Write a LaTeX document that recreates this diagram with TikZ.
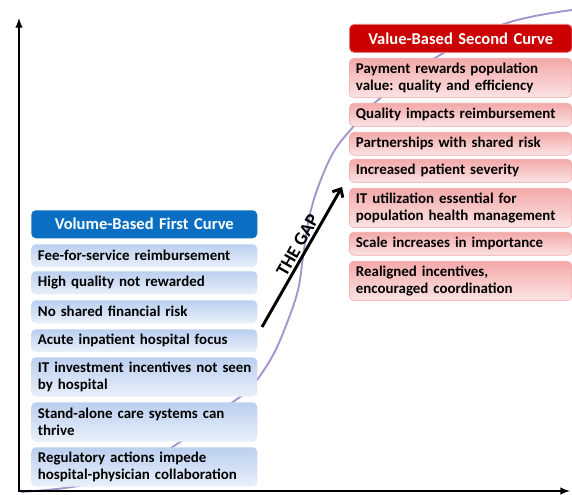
\documentclass[tikz,border=0pt]{standalone}
\usepackage{fontspec}
\setmainfont{Carlito}
\frenchspacing
\usetikzlibrary{calc, positioning, shadings, arrows.meta}
\definecolor{volblue}{HTML}{0A6FC2}
\definecolor{volrowtop}{HTML}{BBCFEF}
\definecolor{volrowbot}{HTML}{E9F0FA}
\definecolor{valred}{HTML}{CC0000}
\definecolor{valedge}{HTML}{E47A7A}
\definecolor{valrowtop}{HTML}{F3A9A9}
\definecolor{valrowbot}{HTML}{FCE3E3}
\definecolor{lilac}{HTML}{A394CE}
\tikzset{
    curvebox/.style={rectangle, rounded corners=3.5pt, anchor=north west, inner xsep=5pt, inner ysep=1pt, align=left, font=\bfseries\fontsize{11.2}{12.8}\selectfont},
    volbox/.style={curvebox, text width=159.5pt},
    valbox/.style={curvebox, text width=157pt},
    volhead/.style={volbox, fill=volblue, text=white, align=center, minimum height=21pt, font=\bfseries\fontsize{12.4}{14}\selectfont},
    volrow/.style={volbox, top color=volrowtop, bottom color=volrowbot},
    valhead/.style={valbox, fill=valred, draw=valedge, line width=0.6pt, text=white, align=center, minimum height=21pt, font=\bfseries\fontsize{12.4}{14}\selectfont},
    valrow/.style={valbox, top color=valrowtop, bottom color=valrowbot, draw=valrowtop, line width=0.4pt},
    oneline/.style={minimum height=17.25pt},
    twoline/.style={minimum height=29.5pt},
    scurve/.style={draw=lilac, line width=1.4pt},
    axis/.style={latex-latex, line width=1.5pt},
    gaparrow/.style={-{Straight Barb[length=5pt, width=9pt]}, line width=2.2pt},
    gaplabel/.style={sloped, above, pos=0.55, inner sep=1.5pt, font=\bfseries\fontsize{14}{16}\selectfont} }

\begin{document}
\begin{tikzpicture}[x=0.75pt, y=0.75pt]
			\useasboundingbox (0,0) rectangle (572,495);
			% the s-curve runs behind everything else
			\draw[scurve] plot[smooth, tension=0.6] coordinates {(21,3) (83,10) (140,30) (183,55) (233,93) (250,106) (272,138) (287,172) (298,205) (303,238) (308,272) (317,305) (333,342) (353,368) (378,395) (440,440) (507,472) (572,485)};
			\coordinate (O) at (19,4);
			\coordinate (xtip) at (570,4);
			\coordinate (ytip) at (19,477);
			\draw[axis] (xtip) -- (O) -- (ytip);
			% ---- first curve
			\node[volhead] (vol) at (31,285) {Volume-Based First Curve};
			\node[volrow, oneline] (vol1) at (31,251) {Fee-for-service reimbursement};
			\node[volrow, oneline] (vol2) at (31,224) {High quality not rewarded};
			\node[volrow, oneline] (vol3) at (31,195) {No shared financial risk};
			\node[volrow, oneline] (vol4) at (31,166) {Acute inpatient hospital focus};
			\node[volrow, twoline] (vol5) at (31,138) {\mbox{IT investment incentives not seen}\\by hospital};
			\node[volrow, twoline] (vol6) at (31,93) {Stand-alone care systems can\\thrive};
			\node[volrow, twoline] (vol7) at (31,48) {Regulatory actions impede\\\mbox{hospital-physician collaboration}};
			% ---- second curve
			\node[valhead] (val) at (349,471) {Value-Based Second Curve};
			\node[valrow, twoline] (val1) at (349,437) {Payment rewards population\\value: quality and efficiency};
			\node[valrow, oneline] (val2) at (349,392) {Quality impacts reimbursement};
			\node[valrow, oneline] (val3) at (349,363) {Partnerships with shared risk};
			\node[valrow, oneline] (val4) at (349,336) {Increased patient severity};
			\node[valrow, twoline] (val5) at (349,307) {IT utilization essential for\\\mbox{population health management}};
			\node[valrow, oneline] (val6) at (349,263) {Scale increases in importance};
			\node[valrow, twoline] (val7) at (349,234) {Realigned incentives,\\encouraged coordination};
			% ---- the gap
			\coordinate (gapfrom) at (262,168);
			\coordinate (gapto) at (342,308);
			\draw[gaparrow] (gapfrom) -- node[gaplabel] (gap) {THE GAP} (gapto);
		\end{tikzpicture}
\end{document}
